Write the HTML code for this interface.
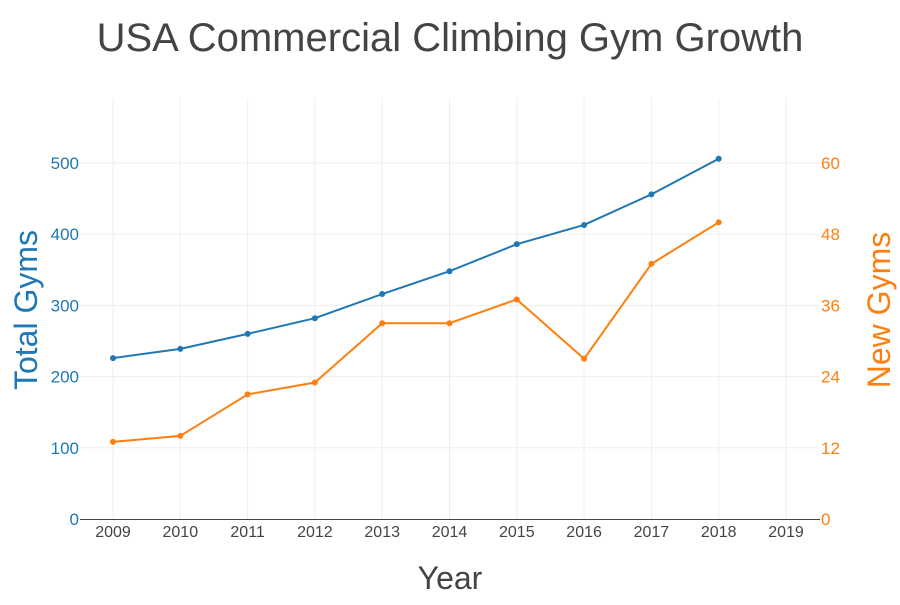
<!DOCTYPE html>
<html><head><meta charset="utf-8">
<style>
body{margin:0;background:#fff;font-family:"Liberation Sans",sans-serif;}
svg text{font-family:"Liberation Sans",sans-serif;}
</style></head>
<body>
<svg id="chart" width="900" height="600">
<text x="450" y="51" text-anchor="middle" font-size="40" fill="#444">USA Commercial Climbing Gym Growth</text>
<g id="grid"></g>
<g id="ticks"></g>
<line x1="80" y1="519.5" x2="820" y2="519.5" stroke="#444" stroke-width="1"/>
<text x="450" y="589" text-anchor="middle" font-size="32" fill="#444">Year</text>
<text transform="translate(37,310) rotate(-90)" text-anchor="middle" font-size="32" fill="#1f77b4">Total Gyms</text>
<text transform="translate(890,310) rotate(-90)" text-anchor="middle" font-size="32" fill="#ff7f0e">New Gyms</text>
<g id="series"></g>
</svg>
<script>
const years=[2009,2010,2011,2012,2013,2014,2015,2016,2017,2018];
const totalGyms=[226,239,260,282,316,348,386,413,456,506];
const newGyms=[13,14,21,23,33,33,37,27,43,50];
const xTicks=[2009,2010,2011,2012,2013,2014,2015,2016,2017,2018,2019];
const leftTicks=[0,100,200,300,400,500];
const rightTicks=[0,12,24,36,48,60];
const NS="http://www.w3.org/2000/svg";
const x=v=>113+(v-2009)*67.3;
const yL=v=>519-v*0.712;
const yR=v=>519-v*(356/60);
function mk(tag,attrs,parent,text){const e=document.createElementNS(NS,tag);for(const k in attrs)e.setAttribute(k,attrs[k]);if(text!==undefined)e.textContent=text;parent.appendChild(e);return e;}
const grid=document.getElementById('grid'),ticks=document.getElementById('ticks'),series=document.getElementById('series');
xTicks.forEach(t=>{
  const l=mk('line',{x1:x(t),x2:x(t),y1:98,y2:519,stroke:'#eee','stroke-width':1},grid);
  
  
  const tx=mk('text',{x:x(t),y:537,'text-anchor':'middle','font-size':16,fill:'#444'},ticks,t);
  
  
});
leftTicks.forEach(t=>{
  if(t>0){const l=mk('line',{x1:80,x2:820,y1:yL(t),y2:yL(t),stroke:'#eee','stroke-width':1},grid);
  
  }
  const tx=mk('text',{x:79,y:yL(t)+6,'text-anchor':'end','font-size':17,fill:'#1f77b4'},ticks,t);
  
  
});
rightTicks.forEach(t=>{
  const tx=mk('text',{x:821,y:yR(t)+6,'text-anchor':'start','font-size':17,fill:'#ff7f0e'},ticks,t);
  
  
});
function draw(vals,yf,color,name){
  const p=mk('polyline',{points:vals.map((v,i)=>x(years[i])+','+yf(v)).join(' '),fill:'none',stroke:color,'stroke-width':2},series);
  
  
  vals.forEach((v,i)=>{
    const c=mk('circle',{cx:x(years[i]),cy:yf(v),r:3,fill:color},series);
    
    
  });
}
draw(totalGyms,yL,'#1f77b4','total-gyms');
draw(newGyms,yR,'#ff7f0e','new-gyms');
</script>
</body></html>
